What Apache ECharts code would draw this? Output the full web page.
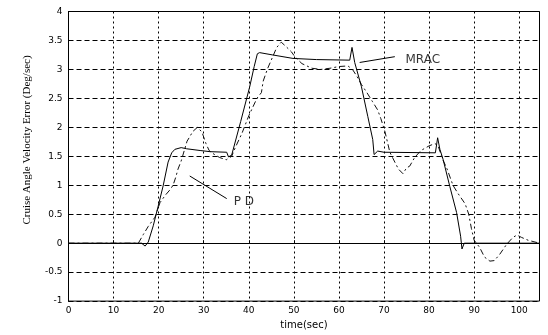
<!DOCTYPE html>
<html>
<head>
<meta charset="utf-8">
<script src="https://cdn.jsdelivr.net/npm/echarts@6/dist/echarts.min.js"></script>
<style>
html, body { margin: 0; padding: 0; background: #fff; }
#main { width: 548px; height: 335px; }
</style>
</head>
<body>
<div id="main"></div>
<script>
// time axis (sec) and the two error curves
var mracTime = [0, 16.2, 17.0, 17.7, 18.8, 19.9, 21.0, 22.1, 22.9, 23.6, 25.0, 26.2, 29.2, 31.4, 35.1, 35.5, 36.2,
	38.2, 40.2, 41.2, 41.9, 42.4, 45.3, 49.8, 55.0, 62.4, 62.9, 63.5, 65.0, 66.4, 67.5, 67.8, 68.1, 68.6, 70.0,
	81.4, 81.9, 82.4, 83.1, 84.6, 86.1, 87.0, 87.3, 87.8, 104.5];
var mracValue = [0, 0, -0.05, 0.02, 0.3, 0.64, 0.99, 1.4, 1.56, 1.62, 1.65, 1.63, 1.6, 1.58, 1.57, 1.49, 1.52,
	2.1, 2.7, 3.05, 3.27, 3.29, 3.25, 3.19, 3.17, 3.16, 3.38, 3.12, 2.7, 2.19, 1.79, 1.53, 1.5, 1.59, 1.57,
	1.56, 1.82, 1.62, 1.45, 0.98, 0.53, 0.12, -0.1, 0, 0];

var pdTime = [0, 15.5, 16.6, 17.7, 19.2, 20.3, 21.5, 22.5, 23.2, 23.8, 24.3, 25.0, 26.3, 27.6, 28.6, 29.6, 30.5,
	31.2, 32.0, 33.5, 35.0, 36.2, 37.0, 38.5, 40.0, 41.8, 42.8, 43.2, 44.2, 45.2, 46.2, 47.2, 48.2, 49.5, 50.2,
	51.8, 54.0, 56.0, 58.0, 60.0, 62.0, 63.0, 64.0, 65.0, 66.2, 67.4, 68.6, 69.3, 70.2, 71.3, 72.4, 73.2, 74.2,
	75.0, 75.7, 76.8, 78.2, 80.0, 81.3, 82.0, 83.0, 84.0, 85.3, 86.4, 88.0, 88.8, 89.4, 90.0, 91.2, 92.3, 93.5,
	94.5, 95.7, 97.2, 98.6, 99.5, 100.5, 102.0, 104.5];
var pdValue = [0, 0, 0.15, 0.29, 0.45, 0.7, 0.83, 0.92, 1.0, 1.14, 1.28, 1.42, 1.76, 1.93, 2.0, 1.92, 1.72,
	1.6, 1.55, 1.48, 1.44, 1.5, 1.65, 1.9, 2.2, 2.5, 2.6, 2.8, 3.02, 3.2, 3.38, 3.47, 3.4, 3.3, 3.22,
	3.1, 3.02, 3.0, 3.02, 3.05, 3.06, 3.0, 2.88, 2.74, 2.6, 2.45, 2.3, 2.15, 1.93, 1.57, 1.4, 1.28, 1.2,
	1.3, 1.33, 1.48, 1.6, 1.68, 1.72, 1.68, 1.45, 1.28, 1.0, 0.86, 0.68, 0.5, 0.25, 0.05, -0.07, -0.24, -0.31,
	-0.3, -0.19, -0.02, 0.1, 0.14, 0.1, 0.05, 0];

var xTicks = [0, 10, 20, 30, 40, 50, 60, 70, 80, 90, 100];
var yTicks = [-1, -0.5, 0, 0.5, 1, 1.5, 2, 2.5, 3, 3.5, 4];

// annotation leader lines and labels (data coordinates)
var mracLeader = [[64.6, 3.12], [72.4, 3.22]];
var mracLabelAt = [78.6, 3.16];
var pdLeader = [[26.9, 1.16], [35.1, 0.77]];
var pdLabelAt = [38.9, 0.72];

function pairs(xs, ys) {
	var out = [];
	for (var i = 0; i < xs.length; i++) {
		out.push([xs[i], ys[i]]);
	}
	return out;
}

var dom = document.getElementById('main');
var myChart = echarts.init(dom, null, { renderer: 'canvas' });
var option = null;
option = {
	animation : false,
	backgroundColor : '#fff',
	grid : {
		left : 68.5,
		right : 8.5,
		top : 11.5,
		bottom : 33,
		show : true,
		borderColor : '#000',
		borderWidth : 1
	},
	xAxis : {
		type : 'value',
		min : 0,
		max : 104.5,
		interval : 10,
		name : 'time(sec)',
		nameLocation : 'middle',
		nameGap : 16,
		nameTextStyle : { color : '#000', fontSize : 10, fontFamily : 'DejaVu Sans' },
		axisLine : { show : true, lineStyle : { color : '#000', width : 1 } },
		axisTick : { show : true, inside : true, length : 3, lineStyle : { color : '#000' } },
		axisLabel : {
			color : '#000', fontSize : 9, fontFamily : 'DejaVu Sans', margin : 5,
			showMaxLabel : false,
			formatter : function(v) { return xTicks.indexOf(v) >= 0 ? String(v) : ''; }
		},
		splitLine : { show : true, lineStyle : { color : '#000', type : [2, 3], width : 1 } }
	},
	yAxis : {
		type : 'value',
		min : -1,
		max : 4,
		interval : 0.5,
		axisLine : { show : true, lineStyle : { color : '#000', width : 1 } },
		axisTick : { show : true, inside : true, length : 3, lineStyle : { color : '#000' } },
		axisLabel : {
			color : '#000', fontSize : 9, fontFamily : 'DejaVu Sans', margin : 6,
			formatter : function(v) { return yTicks.indexOf(v) >= 0 ? String(v) : ''; }
		},
		splitLine : { show : true, lineStyle : { color : '#000', type : [5, 3], width : 1 } }
	},
	graphic : [{
		type : 'text',
		x : 27,
		y : 140,
		rotation : Math.PI / 2,
		style : {
			text : 'Cruise Angle Velocity Error (Deg/sec)',
			fill : '#000',
			font : '11px "Liberation Serif"',
			textAlign : 'center',
			textVerticalAlign : 'middle'
		}
	}],
	series : [{
		name : 'MRAC',
		type : 'line',
		data : pairs(mracTime, mracValue),
		showSymbol : false,
		lineStyle : { color : '#000', width : 1 },
		z : 3
	}, {
		name : 'PD',
		type : 'line',
		data : pairs(pdTime, pdValue),
		showSymbol : false,
		lineStyle : { color : '#111', width : 1, type : [6, 3, 2, 3] },
		z : 2
	}, {
		type : 'line',
		data : mracLeader,
		showSymbol : false,
		silent : true,
		lineStyle : { color : '#000', width : 1 }
	}, {
		type : 'line',
		data : pdLeader,
		showSymbol : false,
		silent : true,
		lineStyle : { color : '#000', width : 1 }
	}, {
		type : 'scatter',
		symbolSize : 1,
		silent : true,
		itemStyle : { color : 'rgba(0,0,0,0)' },
		data : [{ value : mracLabelAt, name : 'MRAC' }, { value : pdLabelAt, name : 'P D' }],
		label : {
			show : true,
			position : 'inside',
			formatter : '{b}',
			color : '#000',
			fontSize : 12,
			fontFamily : 'DejaVu Sans'
		}
	}]
};

if (option && typeof option === "object") {
	myChart.setOption(option, true);
}
</script>
</body>
</html>
